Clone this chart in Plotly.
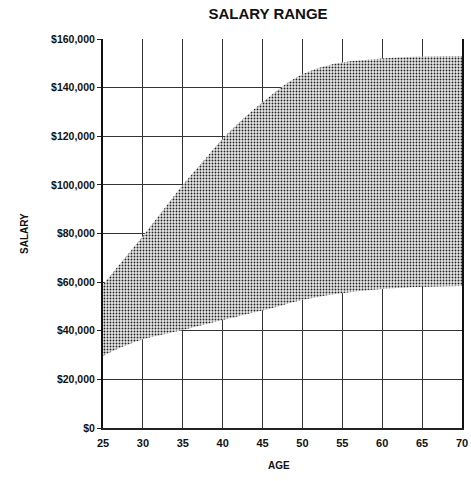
import plotly.graph_objects as go

ages = [25, 27.5, 30, 32.5, 35, 37.5, 40, 42.5, 45, 47.5, 50, 54, 60, 65, 70]
salary_high = [59000, 69000, 79000, 89500, 100000, 109500, 119000, 127000, 134000, 140500, 145500, 149800, 152000, 152800, 153000]
salary_low = [29600, 33500, 36500, 38500, 40300, 42400, 44400, 46400, 48300, 50500, 52600, 55000, 57200, 58000, 58400]

x_ticks = [25, 30, 35, 40, 45, 50, 55, 60, 65, 70]
x_labels = ["25", "30", "35", "40", "45", "50", "55", "60", "65", "70"]
y_ticks = [0, 20000, 40000, 60000, 80000, 100000, 120000, 140000, 160000]
y_labels = ["$0", "$20,000", "$40,000", "$60,000", "$80,000", "$100,000", "$120,000", "$140,000", "$160,000"]

FONT = "Liberation Sans, Arial, sans-serif"

fig = go.Figure()
fig.add_trace(go.Scatter(x=ages, y=salary_low, mode="lines", line=dict(width=0, shape="spline"),
                         hoverinfo="skip", showlegend=False))
fig.add_trace(go.Scatter(x=ages, y=salary_high, mode="lines", line=dict(width=0, shape="spline"),
                         fill="tonexty", fillcolor="#999999",
                         fillpattern=dict(shape=".", fgcolor="#222222", bgcolor="#e8e8e8", size=3, solidity=0.3),
                         hoverinfo="skip", showlegend=False))

fig.update_layout(
    template="none",
    width=471, height=481,
    margin=dict(l=103, r=9, t=39, b=53),
    paper_bgcolor="white", plot_bgcolor="white",
    showlegend=False,
    font=dict(family=FONT, color="#111111"),
    title=dict(text="<b>SALARY RANGE</b>", x=268 / 471, xanchor="center", y=1 - 14 / 481, yanchor="middle",
               font=dict(size=15, family=FONT, color="#111111")),
    xaxis=dict(range=[25, 70], tickvals=x_ticks, ticktext=x_labels, showgrid=True, gridcolor="#333333", gridwidth=1,
               zeroline=False, showline=True, linecolor="#222222", linewidth=1.5, ticks="", automargin=False,
               ticklabeloverflow="allow",
               tickfont=dict(size=11, family=FONT, color="#111111", weight="bold"), ticklabelstandoff=4),
    yaxis=dict(range=[0, 160000], tickvals=y_ticks, ticktext=y_labels, showgrid=True, gridcolor="#333333", gridwidth=1,
               zeroline=False, showline=True, mirror=True, linecolor="#111111", linewidth=2, ticks="outside", ticklen=4,
               tickcolor="#222222", automargin=False,
               tickfont=dict(size=10.5, family=FONT, color="#111111", weight="bold")),
    annotations=[
        dict(text="<b>SALARY</b>", xref="paper", yref="paper", x=0, y=0.5, xshift=-86, textangle=-90,
             showarrow=False, font=dict(size=10, family=FONT, color="#111111")),
        dict(text="<b>AGE</b>", xref="paper", yref="paper", x=(279 - 103) / 359, y=0, yshift=-45,
             showarrow=False, font=dict(size=10, family=FONT, color="#111111")),
    ],
)

fig.write_html("out.html", config={"displayModeBar": False, "staticPlot": True},
               post_script="document.body.style.margin='0';document.body.style.overflow='hidden';")
